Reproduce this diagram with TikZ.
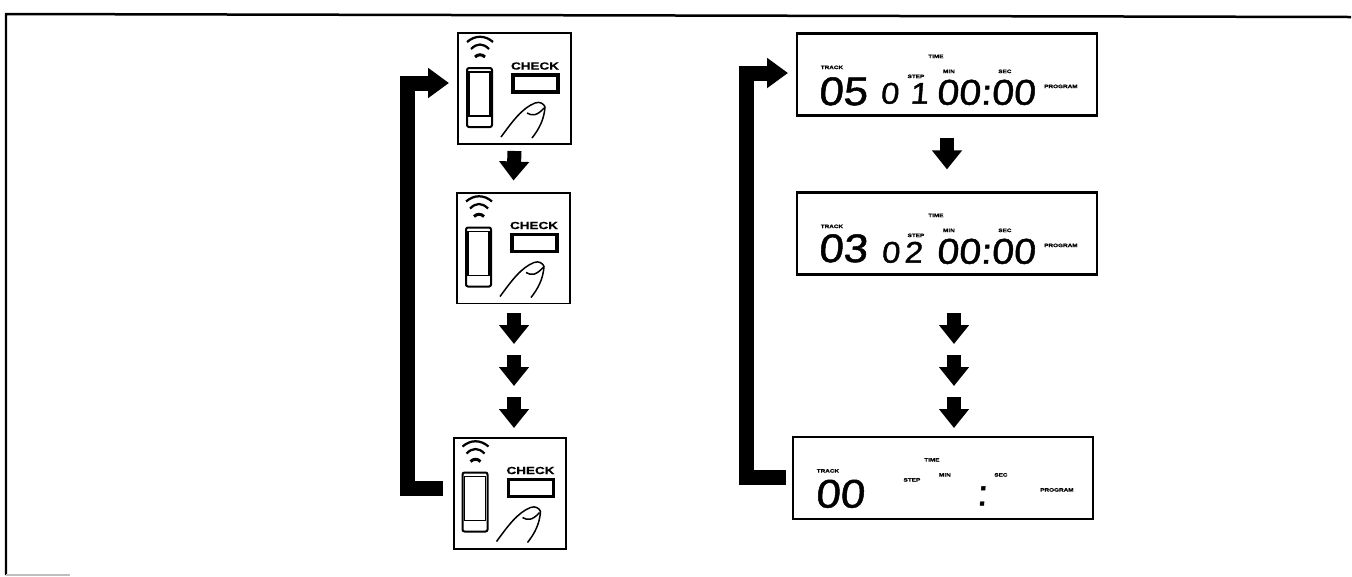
\documentclass[tikz,border=0pt]{standalone}
\usepackage{fontspec}
\usepackage{tikz}
\usetikzlibrary{arrows.meta, calc}
\newfontfamily\lcdfont{Liberation Sans}[FakeSlant=0.08,FakeStretch=1.1,FakeBold=1.2]
\newfontfamily\lblfont{Liberation Sans}[FakeStretch=1.3,FakeBold=0.6]
\tikzset{
    pnl/.style={draw, line width=0.04cm, fill=white, inner sep=0pt, minimum width=2.26cm, minimum height=2.22cm},
    lcd/.style={draw, line width=0.045cm, fill=white, inner sep=0pt, minimum width=6cm, minimum height=1.64cm},
    chk/.style={inner sep=0pt, font=\lblfont\bfseries\fontsize{5.9}{6}\selectfont},
    tag/.style={inner sep=0pt, font=\lblfont\bfseries\fontsize{2.8}{3}\selectfont},
    bigdig/.style={inner sep=0pt, font=\lcdfont\fontsize{22.7}{23}\selectfont},
    timedig/.style={inner sep=0pt, font=\lcdfont\fontsize{20.4}{21}\selectfont},
    stepdig/.style={inner sep=0pt, font=\lcdfont\fontsize{17}{18}\selectfont},
    blkarr/.style={line width=0.28cm, -{Triangle[length=0.38cm, width=0.58cm]}},
    backarr/.style={line width=0.3cm, -{Triangle[length=0.42cm, width=0.58cm]}},
    remote/.pic={
        \draw[line width=0.045cm] (10,10) .. controls (18,3) and (28,3) .. (36,10);
        \draw[line width=0.045cm] (14,17) .. controls (20,11) and (26,11) .. (32,17);
        \draw[line width=0.06cm] (18,25) .. controls (21,22) and (25,22) .. (28,25);
        \draw[line width=0.04cm, rounded corners=0.04cm] (10,36) rectangle (35,95);
        \draw[line width=0.03cm] (12,40) rectangle (33,84);
        \node[chk] at (78,34) {CHECK};
        \draw[line width=0.07cm] (56,43) rectangle (101,60);
        \draw[line width=0.03cm] (44,105) .. controls (55,90) and (65,76) .. (78,71) .. controls (83,69) and (87,72) .. (88,75) .. controls (87,88) and (82,97) .. (75,106);
        \draw[line width=0.03cm] (70,81) .. controls (75,84) and (80,84) .. (87,76);
    },
    lcdtags/.pic={
        \node[tag] at (36,35) {TRACK};
        \node[tag] at (140,24) {TIME};
        \node[tag] at (120,44) {STEP};
        \node[tag] at (153,39) {MIN};
        \node[tag] at (209,39) {SEC};
        \node[tag] at (265,54) {PROGRAM};
    }
}
\begin{document}
\begin{tikzpicture}[x=0.02cm, y=-0.02cm]
    \useasboundingbox (0,0) rectangle (1352,576);

    \coordinate (fa) at (6,575);
    \coordinate (fb) at (6,14);
    \coordinate (fc) at (1351,17);
    \coordinate (fd) at (70,575);
    \draw[line width=0.05cm] (fa) -- (fb) -- (fc);
    \draw[line width=0.04cm, black!25] (fa) -- (fd);

    \node[pnl] (r1) at (514.5,88.5) {};
    \node[pnl] (r2) at (513.5,248) {};
    \node[pnl] (r3) at (510,493) {};
    \pic at (r1.north west) {remote};
    \pic at (r2.north west) {remote};
    \pic at (r3.north west) {remote};

    \node[lcd] (d1) at (947,74.5) {};
    \node[lcd] (d2) at (947,233.5) {};
    \node[lcd] (d3) at (943,478) {};
    \pic at (d1.north west) {lcdtags};
    \pic at (d2.north west) {lcdtags};
    \pic at (d3.north west) {lcdtags};

    \node[bigdig] (t1) at ([shift={(47,59)}]d1.north west) {05};
    \node[stepdig] (s1) at ([shift={(108.5,61)}]d1.north west) {0\kern6.5pt 1};
    \node[timedig] (c1) at ([shift={(190,60)}]d1.north west) {00:00};
    \node[bigdig] (t2) at ([shift={(47,57)}]d2.north west) {03};
    \node[stepdig] (s2) at ([shift={(106,61)}]d2.north west) {0\kern2.5pt 2};
    \node[timedig] (c2) at ([shift={(190,60)}]d2.north west) {00:00};
    \node[bigdig] (t3) at ([shift={(48,58)}]d3.north west) {00};
    \node[timedig] (c3) at ([shift={(190,60)}]d3.north west) {:};

    \draw[blkarr] ([yshift=-0.12cm]r1.south) -- ([yshift=0.22cm]r2.north);
    \draw[blkarr] ([yshift=-0.42cm]d1.south) -- ([yshift=0.44cm]d2.north);
    \foreach \n/\ya in {1/313,2/355,3/397} {
        \coordinate (la\n) at (514,\ya);
        \coordinate (lb\n) at (514,\ya+31);
        \draw[blkarr] (la\n) -- (lb\n);
        \coordinate (ra\n) at (954,\ya);
        \coordinate (rb\n) at (954,\ya+31);
        \draw[blkarr] (ra\n) -- (rb\n);
    }

    \coordinate (lf) at (443,488);
    \coordinate (lt) at (449,83);
    \coordinate (rf) at (786,477);
    \coordinate (rt) at (788,73);
    \draw[backarr] (lf) -| (407,83) -- (lt);
    \draw[backarr] (rf) -| (746,73) -- (rt);
\end{tikzpicture}
\end{document}
